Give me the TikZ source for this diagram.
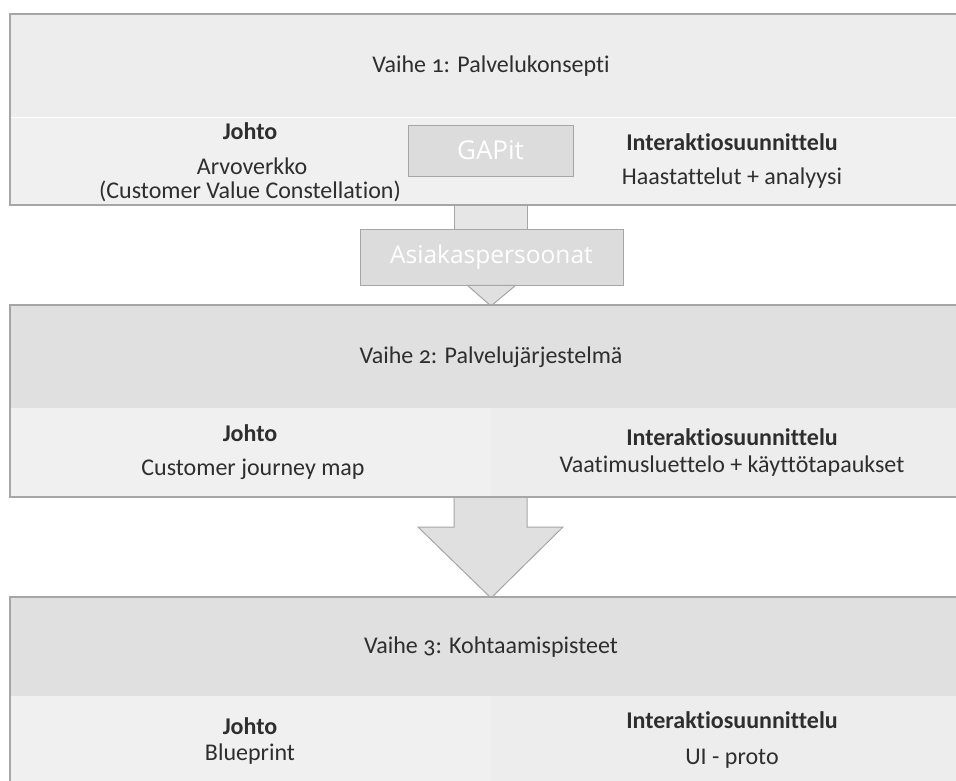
\documentclass[tikz,border=0pt]{standalone}
\usepackage{fontspec}
\setmainfont{Carlito}[Numbers=OldStyle, Ligatures=NoCommon]
\newfontfamily\boxfont{Open Sans}
\usetikzlibrary{calc}
\definecolor{inkgrey}{HTML}{2E2E2E}
\definecolor{edgegrey}{HTML}{A6A6A6}
\definecolor{headone}{HTML}{EDEDED}
\definecolor{headtwo}{HTML}{E0E0E0}
\definecolor{cellleft}{HTML}{F0F0F0}
\definecolor{cellright}{HTML}{EDEDED}
\definecolor{chipfill}{HTML}{DCDCDC}
\definecolor{stemfill}{HTML}{E6E6E6}
\tikzset{
  txt/.style={inner sep=0pt, text=inkgrey, font=\fontsize{24}{28}\selectfont, align=center},
  hdr/.style={txt, font=\bfseries\fontsize{24}{28}\selectfont},
  chip/.style={rectangle, fill=chipfill, draw=edgegrey, line width=0.9pt, text=white, inner sep=0pt},
  edge/.style={draw=edgegrey, line width=1.2pt},
  flow/.style={fill=stemfill, draw=edgegrey, line width=1pt, line join=miter},
}
\begin{document}
\begin{tikzpicture}[x=1pt,y=-1pt]
\useasboundingbox (0,0) rectangle (956,781);
\fill[white] (0,0) rectangle (956,781);

% --- connectors between stages (drawn first, stages cover their ends) ---
\coordinate (s1a) at (454,205);
\coordinate (s1b) at (527,229);
\filldraw[flow] (s1a) rectangle (s1b);

\filldraw[flow, fill=headtwo]
  (454,497) -- (527,497) -- (527,527) -- (563,527) -- (491,598)
  -- (418,527) -- (454,527) -- cycle;

% --- stage 1 ---
\fill[headone] (10,14) rectangle (956,117);
\fill[cellleft] (10,117) rectangle (491,205);
\fill[cellleft] (491,117) rectangle (956,205);
\draw[white, line width=0.8pt] (10,117) -- (956,117);
\draw[edge] (956,14) -- (10,14) -- (10,205) -- (956,205);

\node[txt] (t1) at (491,66) {Vaihe 1: Palvelukonsepti};
\node[hdr] (j1) at (250,131) {Johto};
\node[txt] (j1a) at (252,166) {Arvoverkko};
\node[txt] (j1b) at (250,191) {(Customer Value Constellation)};
\node[hdr] (i1) at (732,142) {Interaktiosuunnittelu};
\node[txt] (i1a) at (732,178) {Haastattelut + analyysi};

\node[chip, minimum width=165pt, minimum height=51pt,
      font=\boxfont\fontsize{26}{30}\selectfont] (gap) at (490.5,150.5) {GAPit};

% --- personas between stage 1 and stage 2 ---
\node[chip, minimum width=263pt, minimum height=56pt,
      font=\boxfont\fontsize{24.5}{28}\selectfont] (asia) at (491.5,257) {Asiakaspersoonat};
\filldraw[flow, fill=headtwo] ($(asia.south)+(-24,0)$) -- ($(asia.south)+(24,0)$) -- (491,306) -- cycle;

% --- stage 2 ---
\fill[headtwo] (10,305) rectangle (956,408);
\fill[cellleft] (10,408) rectangle (491,497);
\fill[cellright] (491,408) rectangle (956,497);
\draw[edge] (956,305) -- (10,305) -- (10,497) -- (956,497);

\node[txt] (t2) at (491,357) {Vaihe 2: Palvelujärjestelmä};
\node[hdr] (j2) at (250,433) {Johto};
\node[txt] (j2a) at (253,469) {Customer journey map};
\node[hdr] (i2) at (732,437) {Interaktiosuunnittelu};
\node[txt] (i2a) at (732,466) {Vaatimusluettelo + käyttötapaukset};

% --- stage 3 ---
\fill[headtwo] (10,597) rectangle (956,696);
\fill[cellleft] (10,696) rectangle (491,781);
\fill[cellright] (491,696) rectangle (956,781);
\draw[edge] (956,597) -- (10,597) -- (10,781);

\node[txt] (t3) at (491,647) {Vaihe 3: Kohtaamispisteet};
\node[hdr] (j3) at (250,726) {Johto};
\node[txt] (j3a) at (250,754) {Blueprint};
\node[hdr] (i3) at (732,720) {Interaktiosuunnittelu};
\node[txt] (i3a) at (732,759) {UI - proto};
\end{tikzpicture}
\end{document}
